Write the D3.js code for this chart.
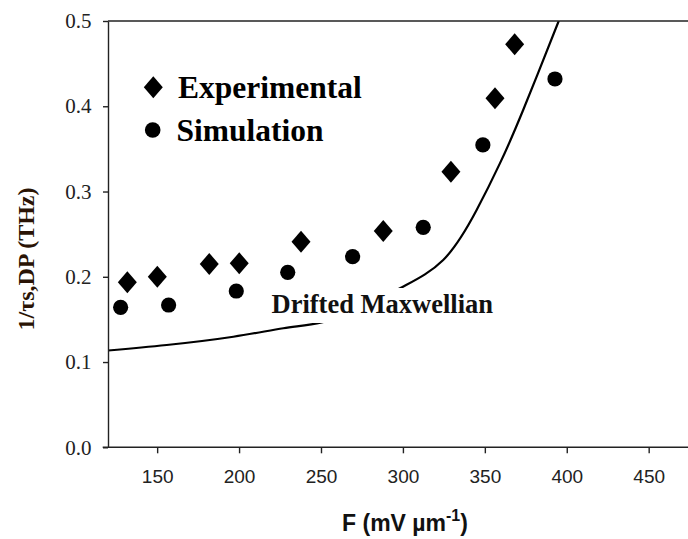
<!DOCTYPE html>
<html>
<head>
<meta charset="utf-8">
<script src="https://cdn.jsdelivr.net/npm/d3@7"></script>
<style>
  body { margin: 0; background: #fff; }
  svg { display: block; }
</style>
</head>
<body>
<div id="chart"></div>
<script>
// Experimental (diamonds)
const expF = [131.8, 150.1, 181.8, 200.1, 237.8, 288.0, 329.3, 356.2, 368.2]
const expRate = [0.1935, 0.2001, 0.215, 0.2158, 0.241, 0.2537, 0.3233, 0.4093, 0.4727]
// Simulation (circles)
const simF = [127.7, 157.0, 198.3, 229.7, 269.3, 312.4, 348.8, 392.8]
const simRate = [0.1642, 0.1669, 0.1833, 0.2052, 0.2236, 0.258, 0.3546, 0.432]
// Drifted Maxwellian curve
const dmF = [120, 155.8, 196.5, 227, 250.4, 275, 298.2, 324.6, 345, 359.2, 373.4, 394.8, 398]
const dmRate = [0.1135, 0.120, 0.1297, 0.1396, 0.1466, 0.162, 0.1865, 0.2197, 0.2783, 0.333, 0.3956, 0.4985, 0.515]

const xTicks = [150, 200, 250, 300, 350, 400, 450]
const yTicks = [0, 0.1, 0.2, 0.3, 0.4, 0.5]

const SERIF = "'Liberation Serif', 'Times New Roman', serif"
const SANS = "'Liberation Sans', Arial, sans-serif"

const W = 688, H = 539
const margin = { top: 21, right: 0, bottom: 91.7, left: 108 }

const svg = d3.select('#chart').append('svg')
  .attr('width', W)
  .attr('height', H)

const x = d3.scaleLinear()
  .domain([120, 474])
  .range([margin.left, W - margin.right])
const y = d3.scaleLinear()
  .domain([0, 0.5])
  .range([H - margin.bottom, margin.top])

// clip
svg.append('clipPath').attr('id', 'plot')
  .append('rect')
    .attr('x', margin.left)
    .attr('y', margin.top)
    .attr('width', W - margin.left)
    .attr('height', y(0) - margin.top)

// curve
const line = d3.line()
  .x(d => x(d[0]))
  .y(d => y(d[1]))
  .curve(d3.curveNatural)
svg.append('path')
  .datum(d3.zip(dmF, dmRate))
  .attr('clip-path', 'url(#plot)')
  .attr('fill', 'none')
  .attr('stroke', '#000')
  .attr('stroke-width', 2.2)
  .attr('d', line)

// label with white box over the curve
const lab = svg.append('g')
lab.append('rect')
  .attr('x', 268).attr('y', 288)
  .attr('width', 228).attr('height', 35)
  .attr('fill', '#fff')
lab.append('text')
  .attr('font-family', SERIF)
  .attr('x', 271.5).attr('y', 312.5)
  .attr('font-size', 26.5)
  .attr('font-weight', 'bold')
  .attr('fill', '#111')
  .text('Drifted Maxwellian')

// frame top line
svg.append('line')
  .attr('x1', margin.left).attr('x2', W)
  .attr('y1', y(0.5)).attr('y2', y(0.5))
  .attr('stroke', '#222').attr('stroke-width', 1.4)

// y axis
const yAxis = d3.axisLeft(y)
  .tickValues(yTicks)
  .tickFormat(d3.format('.1f'))
  .tickSize(5)
  .tickSizeOuter(0)
  .tickPadding(11.5)
const gy = svg.append('g')
  .attr('transform', `translate(${margin.left},0)`)
  .call(yAxis)
gy.selectAll('path, line').attr('stroke', '#222').attr('stroke-width', 1.4)
gy.selectAll('text')
  .attr('font-family', SERIF)
  .attr('font-size', 21)
  .attr('fill', '#222')

// x axis
const xAxis = d3.axisBottom(x)
  .tickValues(xTicks)
  .tickSize(6)
  .tickSizeOuter(0)
const gx = svg.append('g')
  .attr('transform', `translate(0,${y(0)})`)
  .call(xAxis)
gx.select('path.domain').attr('d', `M${margin.left - 5.3},0H${W}`)
gx.selectAll('path, line').attr('stroke', '#222').attr('stroke-width', 1.4)
gx.selectAll('text')
  .attr('font-family', SANS)
  .attr('font-size', 19)
  .attr('fill', '#222')
  .attr('dy', 0)
  .attr('y', 35.4)

// axis titles
svg.append('text')
  .attr('font-family', SANS)
  .attr('x', 405).attr('y', 531)
  .attr('text-anchor', 'middle')
  .attr('font-size', 23)
  .attr('font-weight', 'bold')
  .attr('fill', '#111')
  .call(t => {
    t.append('tspan').text('F (mV \u00b5m')
    t.append('tspan').attr('font-size', 16).attr('dy', -10).text('-1')
    t.append('tspan').attr('dy', 10).text(')')
  })

svg.append('text')
  .attr('font-family', SERIF)
  .attr('transform', 'translate(34,259) rotate(-90)')
  .attr('text-anchor', 'middle')
  .attr('font-size', 24)
  .attr('font-weight', 'bold')
  .attr('fill', '#2a1405')
  .text('1/\u03c4s,DP (THz)')

// markers
const diamond = (cx, cy) => `M${cx},${cy - 11}L${cx + 9.5},${cy}L${cx},${cy + 11}L${cx - 9.5},${cy}Z`

svg.append('g').selectAll('path')
  .data(d3.zip(expF, expRate))
  .enter().append('path')
    .attr('d', d => diamond(x(d[0]), y(d[1])))
    .attr('fill', '#000')

svg.append('g').selectAll('circle')
  .data(d3.zip(simF, simRate))
  .enter().append('circle')
    .attr('cx', d => x(d[0]))
    .attr('cy', d => y(d[1]))
    .attr('r', 7.6)
    .attr('fill', '#000')

// legend
svg.append('path').attr('d', diamond(153.3, 87.3)).attr('fill', '#000')
svg.append('circle').attr('cx', 152.7).attr('cy', 130).attr('r', 7.8).attr('fill', '#000')
svg.append('text')
  .attr('font-family', SERIF)
  .attr('x', 178).attr('y', 98.3)
  .attr('font-size', 31.5)
  .attr('font-weight', 'bold')
  .text('Experimental')
svg.append('text')
  .attr('font-family', SERIF)
  .attr('x', 176.5).attr('y', 140.5)
  .attr('font-size', 31.5)
  .attr('font-weight', 'bold')
  .text('Simulation')
</script>
</body>
</html>
